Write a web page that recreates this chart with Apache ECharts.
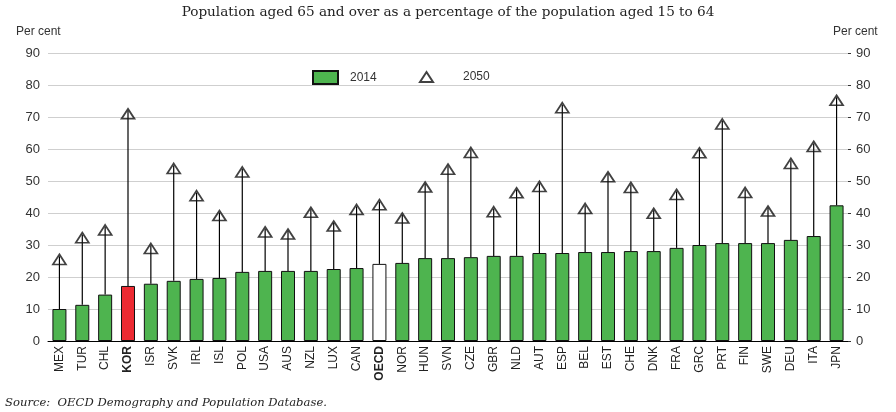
<!DOCTYPE html>
<html>
<head>
<meta charset="utf-8">
<script src="https://cdn.jsdelivr.net/npm/echarts@6/dist/echarts.min.js"></script>
<style>
html,body{margin:0;padding:0;background:#fff;}
#c{width:896px;height:412px;}
</style>
</head>
<body>
<div id="c"></div>
<script>
const categories = ['MEX','TUR','CHL','KOR','ISR','SVK','IRL','ISL','POL','USA','AUS','NZL','LUX','CAN','OECD','NOR','HUN','SVN','CZE','GBR','NLD','AUT','ESP','BEL','EST','CHE','DNK','FRA','GRC','PRT','FIN','SWE','DEU','ITA','JPN'];
const values2014 = [10.0,11.3,14.5,17.2,17.9,18.8,19.4,19.7,21.6,21.9,21.9,21.9,22.5,22.8,24.1,24.4,25.9,25.9,26.2,26.6,26.6,27.5,27.5,27.8,27.8,28.1,28.1,29.1,30.0,30.6,30.6,30.6,31.6,32.8,42.4];
const values2050 = [25.5,32.3,34.7,71.0,28.9,53.9,45.4,39.2,52.8,34.1,33.4,40.2,35.9,41.1,42.6,38.4,48.1,53.7,58.9,40.4,46.3,48.3,72.9,41.4,51.3,48.0,39.9,45.8,58.8,67.8,46.4,40.6,55.5,60.8,75.2];
const yTicks = [0,10,20,30,40,50,60,70,80,90];
const titleText = 'Population aged 65 and over as a percentage of the population aged 15 to 64';
const sourceText = 'Source:  OECD Demography and Population Database.';
const yAxisName = 'Per cent';

const GREEN = '#4eb44f';
const barData = values2014.map((v, i) => {
  const c = categories[i];
  if (c === 'KOR') return {value: v, itemStyle: {color: '#ec2a32'}};
  if (c === 'OECD') return {value: v, itemStyle: {color: '#ffffff'}};
  return v;
});
const stemData = categories.map((c, i) => [i, values2014[i], values2050[i]]);

const FONT = "'Liberation Sans', Arial, sans-serif";
const chart = echarts.init(document.getElementById('c'), null, {renderer: 'canvas'});
const yAxisCommon = {
  type: 'value', min: yTicks[0], max: yTicks[yTicks.length - 1], interval: 10,
  axisLine: {show: false},
  axisLabel: {color: '#333', fontSize: 13, fontFamily: FONT, margin: 8},
};
chart.setOption({
  animation: false,
  textStyle: {fontFamily: FONT},
  title: {
    text: titleText, left: 'center', top: 0,
    textStyle: {fontFamily: "'DejaVu Serif', serif", fontWeight: 'normal', fontSize: 13.6, color: '#222'}
  },
  graphic: [
    {type: 'text', left: 16, top: 26, style: {text: yAxisName, font: '12px ' + FONT, fill: '#333'}},
    {type: 'text', left: 833, top: 26, style: {text: yAxisName, font: '12px ' + FONT, fill: '#333'}},
    {type: 'text', left: 5, top: 397, style: {text: sourceText, font: 'italic 11.6px "DejaVu Serif", serif', fill: '#222'}}
  ],
  legend: [
    {data: [{name: '2014', icon: 'rect'}], left: 312, top: 70, itemWidth: 25, itemHeight: 13, padding: 0,
     textStyle: {fontSize: 12, color: '#333', padding: [0, 0, 0, 7]}},
    {data: [{name: '2050', icon: 'triangle'}], left: 419, top: 71, itemWidth: 13, itemHeight: 10, padding: 0,
     textStyle: {fontSize: 12, color: '#333', padding: [0, 0, 0, 25]}}
  ],
  grid: {left: 48, right: 48, top: 53, bottom: 71},
  xAxis: {
    type: 'category', data: categories,
    axisLine: {lineStyle: {color: '#000', width: 1}},
    axisTick: {show: false},
    axisLabel: {
      rotate: 90, fontSize: 12, color: '#222', margin: 5, interval: 0,
      formatter: v => (v === 'KOR' || v === 'OECD') ? '{b|' + v + '}' : v,
      rich: {b: {fontWeight: 'bold', fontSize: 12, color: '#222'}}
    }
  },
  yAxis: [
    Object.assign({}, yAxisCommon, {position: 'left', axisTick: {show: false},
      splitLine: {show: true, lineStyle: {color: '#cfcfcf', width: 1}}}),
    Object.assign({}, yAxisCommon, {position: 'right',
      axisTick: {show: true, length: 3, lineStyle: {color: '#333'}},
      splitLine: {show: false}})
  ],
  series: [
    {
      name: '2014', type: 'bar', data: barData, barWidth: 14,
      itemStyle: {color: GREEN, borderColor: '#111', borderWidth: 1},
      z: 2
    },
    {
      name: 'stems', type: 'custom', data: stemData, z: 3, silent: true,
      renderItem: function (params, api) {
        const p1 = api.coord([api.value(0), api.value(1)]);
        const p2 = api.coord([api.value(0), api.value(2)]);
        return {type: 'line', shape: {x1: p1[0], y1: p1[1], x2: p2[0], y2: p2[1] - 3},
          style: {stroke: '#000', lineWidth: 1.2}};
      }
    },
    {
      name: '2050', type: 'scatter', data: values2050, symbol: 'triangle', symbolSize: [13, 10],
      itemStyle: {color: 'rgba(255,255,255,0)', borderColor: '#111', borderWidth: 1.7},
      z: 4
    }
  ]
});
</script>
</body>
</html>
